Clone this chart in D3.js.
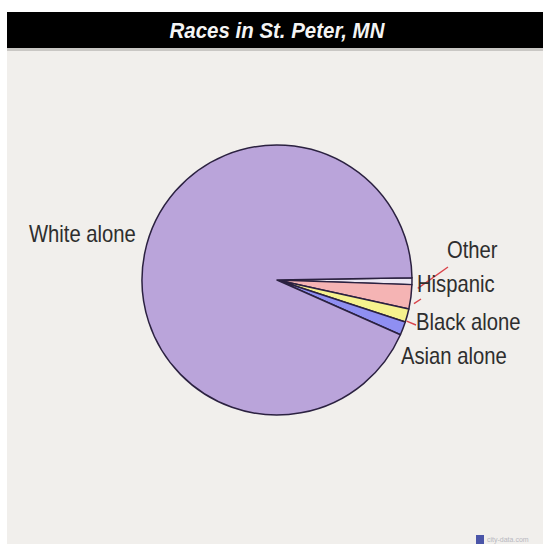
<!DOCTYPE html>
<html>
<head>
<meta charset="utf-8">
<script src="https://cdn.jsdelivr.net/npm/d3@7/dist/d3.min.js"></script>
<style>
  html, body { margin: 0; padding: 0; background: #ffffff; }
  svg { display: block; }
</style>
</head>
<body>
<svg id="chart" width="543" height="544"></svg>
<script>
// Race composition of St. Peter, MN (percent of population)
const categories = ["Other", "Hispanic", "Black alone", "Asian alone", "White alone"];
const values = [0.8, 2.9, 1.6, 1.6, 93.1];
const colors = ["#ece8f3", "#f5b4b4", "#f6f28e", "#8f8ff2", "#baa4da"];

const svg = d3.select("#chart");
const W = 543, H = 544;
const font = "Liberation Sans, Arial, sans-serif";

// Panel background and title bar
svg.append("rect").attr("x", 7).attr("y", 48).attr("width", W - 7).attr("height", H - 48).attr("fill", "#f1efec");
svg.append("rect").attr("x", 7).attr("y", 48).attr("width", W - 7).attr("height", 3).attr("fill", "#c9c7c4");
svg.append("rect").attr("x", 7).attr("y", 12).attr("width", W - 7).attr("height", 36).attr("fill", "#000000");
svg.append("text")
  .attr("transform", "translate(277,38) scale(0.93,1)")
  .attr("text-anchor", "middle")
  .attr("font-family", font)
  .attr("font-size", 22).attr("font-style", "italic").attr("font-weight", "bold")
  .attr("fill", "#f4f4f4")
  .text("Races in St. Peter, MN");

// Pie: first slice starts just above 3 o'clock and runs clockwise
const cx = 277, cy = 280, r = 135;
const startA = Math.PI / 2 - 0.016;
const pie = d3.pie().sort(null).value(d => d)
  .startAngle(startA).endAngle(startA + 2 * Math.PI);
const arcs = pie(values);
const arc = d3.arc().innerRadius(0).outerRadius(r);

const g = svg.append("g").attr("transform", `translate(${cx},${cy})`);
g.selectAll("path").data(arcs).join("path")
  .attr("d", arc)
  .attr("fill", (d, i) => colors[i])
  .attr("stroke", "#2b2140")
  .attr("stroke-width", 1.5)
  .attr("stroke-linejoin", "round");

// Leader lines from small slices to their labels; t picks a point along the slice's arc
const at = (d, t, rr) => {
  const a = d.startAngle + t * (d.endAngle - d.startAngle);
  return [cx + rr * Math.sin(a), cy - rr * Math.cos(a)];
};
const leaders = [
  { i: 0, t: 1.5, off: 6, to: [448, 267] },
  { i: 1, t: 0.75, off: 4, to: [421, 299] },
  { i: 2, t: 0.9, off: 1, to: [416, 325] }
];
leaders.forEach(l => {
  const from = at(arcs[l.i], l.t, r + l.off);
  svg.append("line")
    .attr("x1", from[0]).attr("y1", from[1])
    .attr("x2", l.to[0]).attr("y2", l.to[1])
    .attr("stroke", "#d9434a").attr("stroke-width", 1.4);
});

// Labels (slightly condensed lettering)
const labelPos = [
  { x: 447, y: 258 },
  { x: 417, y: 292 },
  { x: 416, y: 330 },
  { x: 401, y: 364 },
  { x: 29, y: 242 }
];
svg.selectAll("text.lbl").data(categories).join("text")
  .attr("class", "lbl")
  .attr("transform", (d, i) => `translate(${labelPos[i].x},${labelPos[i].y}) scale(0.88,1)`)
  .attr("font-family", font)
  .attr("font-size", 23)
  .attr("fill", "#2e2e2e")
  .text(d => d);

// Source mark
svg.append("rect").attr("x", 476).attr("y", 535).attr("width", 8).attr("height", 9).attr("fill", "#4a55a8");
svg.append("text").attr("x", 487).attr("y", 542)
  .attr("font-family", font).attr("font-size", 7).attr("fill", "#b8b8c0")
  .text("city-data.com");
</script>
</body>
</html>
